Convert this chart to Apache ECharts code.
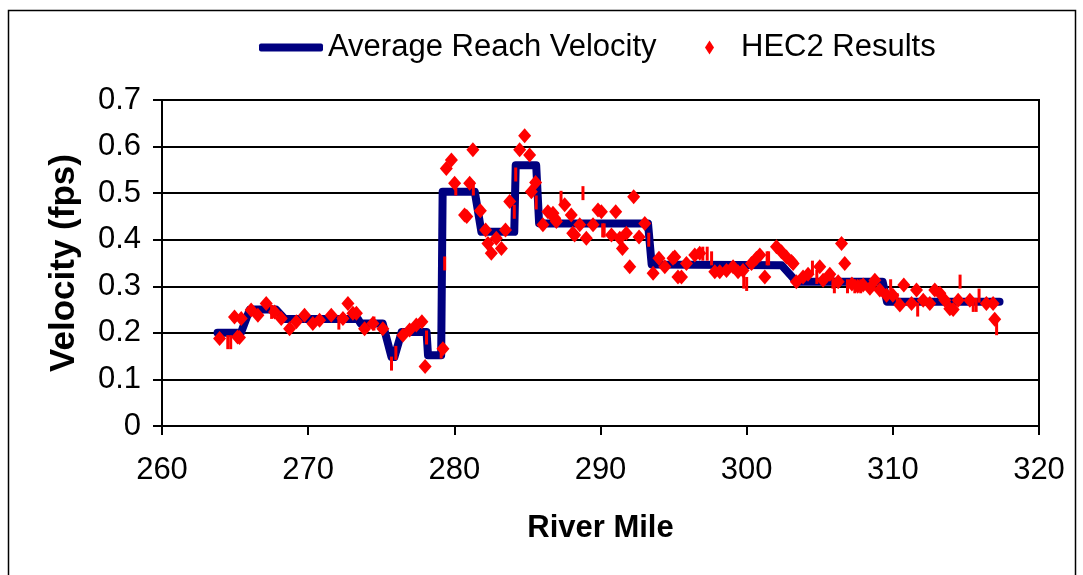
<!DOCTYPE html>
<html>
<head>
<meta charset="utf-8">
<script src="https://cdn.jsdelivr.net/npm/echarts@6/dist/echarts.min.js"></script>
<style>
  html, body { margin: 0; padding: 0; background: #fff; }
  #main { width: 1083px; height: 575px; }
</style>
</head>
<body>
<div id="main"></div>
<script>
// 平均流速（阶梯线）
const lineMiles = [263.8, 265.4, 266.0, 267.8, 268.4, 273.4, 273.6, 275.1, 275.7, 275.9, 276.4, 278.1, 278.2, 279.1, 279.2, 281.4, 281.85, 284.1, 284.2, 285.6, 285.8, 293.25, 293.5, 302.4, 303.4, 309.3, 309.6, 317.3];
const lineVel = [0.2, 0.2, 0.25, 0.25, 0.23, 0.23, 0.22, 0.22, 0.148, 0.148, 0.202, 0.202, 0.152, 0.152, 0.503, 0.503, 0.417, 0.417, 0.56, 0.56, 0.435, 0.435, 0.347, 0.345, 0.31, 0.31, 0.267, 0.267];

// HEC2 结果 - 菱形点
const hecMiles = [263.94, 265.17, 265.3, 264.96, 265.42, 266.1, 266.56, 267.13, 267.7, 268.16, 268.73, 269.19, 269.75, 270.32, 270.78, 271.58, 272.38, 272.72, 273.06,
  273.3, 273.86, 274.43, 275.11, 276.48, 276.94, 277.4, 277.78, 278.0, 279.22,
  279.45, 279.8, 280.02, 280.7, 280.85, 281.05, 281.27, 281.78, 282.14, 282.3, 282.53, 282.87, 283.22, 283.5, 283.79, 284.47, 284.81, 285.15, 285.27, 285.56, 286.06, 286.4, 286.87,
  286.75, 286.98, 287.55, 288.0, 288.1, 288.23, 288.58, 289.03, 289.49, 289.83, 290.06, 290.75, 291.04, 291.32, 291.5, 291.77, 292.0, 292.27, 292.64, 293.03, 293.6, 294.0, 294.4, 294.96, 295.3,
  295.08, 295.54, 295.88, 296.45, 296.79, 297.82, 298.16, 298.62, 299.07, 299.41, 299.75, 300.33, 300.67, 300.9, 301.24, 302.04, 302.38, 302.72, 303.07,
  303.18, 303.4, 303.86, 304.2, 305.0, 305.23, 305.69, 306.26, 306.49, 306.71, 307.2, 307.6, 307.97, 308.43, 308.77, 309.11, 309.57, 310.0,
  310.48, 310.75, 311.28, 311.62, 312.08, 312.53, 312.87, 313.22, 313.56, 313.9, 314.13, 314.47, 315.27, 316.4, 316.86, 316.97];
const hecVel = [0.188, 0.191, 0.19, 0.234, 0.231, 0.249, 0.238, 0.263, 0.245, 0.231, 0.209, 0.224, 0.238, 0.22, 0.227, 0.238, 0.231, 0.263, 0.242,
  0.242, 0.209, 0.22, 0.209, 0.195, 0.206, 0.217, 0.224, 0.128, 0.166,
  0.553, 0.571, 0.521, 0.453, 0.45, 0.521, 0.593, 0.462, 0.421, 0.392, 0.371, 0.403, 0.381, 0.421, 0.482, 0.593, 0.623, 0.582, 0.503, 0.523, 0.432, 0.46, 0.446,
  0.457, 0.439, 0.475, 0.453, 0.414, 0.41, 0.432, 0.403, 0.432, 0.464, 0.46, 0.41, 0.46, 0.403, 0.381, 0.414, 0.342, 0.492, 0.406, 0.435, 0.328, 0.36, 0.342, 0.36, 0.32,
  0.363, 0.32, 0.349, 0.367, 0.371, 0.331, 0.331, 0.334, 0.342, 0.331, 0.334, 0.349, 0.36, 0.367, 0.32, 0.385, 0.374, 0.363, 0.353,
  0.349, 0.31, 0.32, 0.326, 0.342, 0.313, 0.326, 0.31, 0.392, 0.349, 0.305, 0.3, 0.303, 0.296, 0.313, 0.292, 0.281, 0.281,
  0.26, 0.303, 0.263, 0.292, 0.27, 0.263, 0.292, 0.285, 0.27, 0.252, 0.25, 0.27, 0.27, 0.263, 0.263, 0.229];

// HEC2 结果 - 竖线状的点
const tickMiles = [264.5, 264.7, 267.5, 272.1, 274.5, 275.7, 276.0, 278.1, 279.1, 279.34, 280.1, 281.3, 284.1, 284.2, 285.6, 287.3, 288.8, 290.15, 290.25, 293.3,
  297.0, 297.3, 297.6, 299.8, 300.0, 301.4, 301.5, 304.5, 304.8, 305.9, 306.0, 306.9, 307.4, 307.8, 309.85, 310.3, 311.7, 314.6, 315.5, 315.7, 315.9, 317.1];
const tickVel = [0.18, 0.18, 0.245, 0.222, 0.22, 0.134, 0.157, 0.19, 0.16, 0.349, 0.51, 0.51, 0.46, 0.54, 0.48, 0.49, 0.5, 0.42, 0.42, 0.4,
  0.37, 0.37, 0.36, 0.31, 0.305, 0.36, 0.36, 0.34, 0.32, 0.31, 0.3, 0.3, 0.3, 0.3, 0.3, 0.27, 0.25, 0.31, 0.26, 0.26, 0.28, 0.21];

const FONT = '"Liberation Sans", Arial, sans-serif';

const myChart = echarts.init(document.getElementById('main'));

const option = {
  animation: false,
  backgroundColor: '#fff',
  textStyle: { fontFamily: FONT, color: '#000' },
  graphic: [{
    type: 'rect',
    shape: { x: 8.5, y: 10.5, width: 1067, height: 600 },
    style: { fill: 'none', stroke: '#000', lineWidth: 1.5 },
    silent: true
  }],
  legend: [
    {
      data: ['Average Reach Velocity'],
      left: 254,
      top: 27,
      itemWidth: 64,
      itemHeight: 8,
      itemGap: 8,
      icon: 'roundRect',
      textStyle: { fontSize: 31, fontFamily: FONT, color: '#000' }
    },
    {
      data: ['HEC2 Results'],
      left: 700,
      top: 27,
      itemWidth: 9,
      itemHeight: 14,
      itemGap: 30,
      icon: 'diamond',
      textStyle: { fontSize: 31, fontFamily: FONT, color: '#000', padding: [0, 0, 0, 22] }
    }
  ],
  grid: {
    left: 162,
    right: 44,
    top: 100,
    bottom: 149,
    show: true,
    borderColor: '#000',
    borderWidth: 2
  },
  xAxis: {
    type: 'value',
    min: 260,
    max: 320,
    interval: 10,
    name: 'River Mile',
    nameLocation: 'middle',
    nameGap: 87,
    nameTextStyle: { fontSize: 31, fontWeight: 'bold', fontFamily: FONT, color: '#000' },
    axisLine: { show: true, lineStyle: { color: '#000', width: 2 } },
    axisTick: { show: true, inside: false, length: 9, lineStyle: { color: '#000', width: 2 } },
    axisLabel: { fontSize: 31, fontFamily: FONT, color: '#000', margin: 29 },
    splitLine: { show: false }
  },
  yAxis: {
    type: 'value',
    min: 0,
    max: 0.7,
    interval: 0.1,
    name: 'Velocity (fps)',
    nameLocation: 'middle',
    nameGap: 80,
    nameRotate: 90,
    nameTextStyle: { fontSize: 35, fontWeight: 'bold', fontFamily: FONT, color: '#000' },
    axisLine: { show: true, lineStyle: { color: '#000', width: 2 } },
    axisTick: { show: true, inside: false, length: 9, lineStyle: { color: '#000', width: 2 } },
    axisLabel: {
      fontSize: 31,
      fontFamily: FONT,
      color: '#000',
      margin: 21,
      formatter: function (v) { return v === 0 ? '0' : v.toFixed(1); }
    },
    splitLine: { show: true, lineStyle: { color: '#000', width: 2 } }
  },
  series: [
    {
      name: 'Average Reach Velocity',
      type: 'line',
      data: lineMiles.map((m, i) => [m, lineVel[i]]),
      showSymbol: false,
      symbol: 'none',
      itemStyle: { color: '#000080' },
      lineStyle: { color: '#000080', width: 8, cap: 'round', join: 'round' },
      z: 2
    },
    {
      name: 'HEC2 Results',
      type: 'scatter',
      data: hecMiles.map((m, i) => [m, hecVel[i]]),
      symbol: 'diamond',
      symbolSize: [13, 15],
      itemStyle: { color: '#ff0000', opacity: 1 },
      z: 3
    },
    {
      name: 'HEC2 Results',
      type: 'scatter',
      data: tickMiles.map((m, i) => [m, tickVel[i]]),
      symbol: 'rect',
      symbolSize: [3, 14],
      itemStyle: { color: '#ff0000', opacity: 1 },
      z: 3
    }
  ]
};

myChart.setOption(option);
</script>
</body>
</html>
